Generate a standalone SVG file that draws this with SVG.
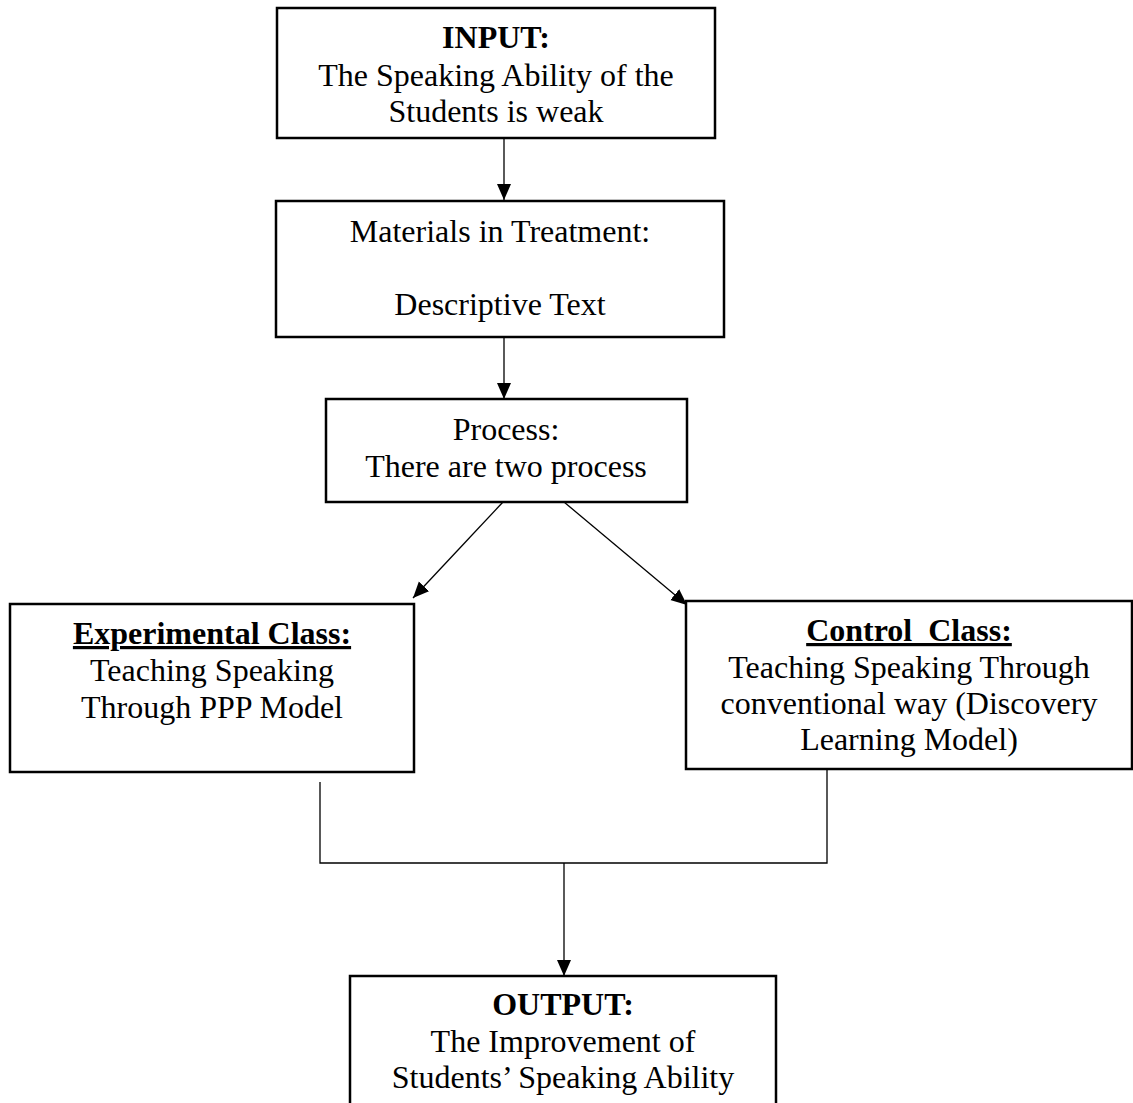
<svg xmlns="http://www.w3.org/2000/svg" width="1133" height="1103" viewBox="0 0 1133 1103">
<style>
.box{fill:#fff;stroke:#000;stroke-width:2.5}
.t{font-family:"Liberation Serif","Times New Roman",serif;font-size:32px;fill:#000;text-anchor:middle;white-space:pre}
.b{font-weight:bold}
.u{text-decoration:underline}
.c{fill:none;stroke:#000;stroke-width:1.3}
</style>
<defs>
<marker id="ah" markerUnits="userSpaceOnUse" markerWidth="16" markerHeight="16" viewBox="0 0 16 16" refX="16" refY="8" orient="auto">
<path d="M0,1 L16,8 L0,15 Z" fill="#000"/>
</marker>
</defs>
<rect width="1133" height="1103" fill="#fff"/>
<g id="connectors">
<line class="c" x1="504" y1="138" x2="504" y2="200" marker-end="url(#ah)"/>
<line class="c" x1="504" y1="337" x2="504" y2="399" marker-end="url(#ah)"/>
<line class="c" x1="503" y1="502" x2="413" y2="598" marker-end="url(#ah)"/>
<line class="c" x1="564" y1="502" x2="687" y2="605" marker-end="url(#ah)"/>
<polyline class="c" points="320,782 320,863 827,863 827,769"/>
<line class="c" x1="564" y1="863" x2="564" y2="976" marker-end="url(#ah)"/>
</g>
<g id="input">
<rect class="box" x="277" y="8" width="438" height="130"/>
<text class="t b" x="496" y="48">INPUT:</text>
<text class="t" x="496" y="86">The Speaking Ability of the</text>
<text class="t" x="496" y="122">Students is weak</text>
</g>
<g id="materials">
<rect class="box" x="276" y="201" width="448" height="136"/>
<text class="t" x="500" y="242">Materials in Treatment:</text>
<text class="t" x="500" y="315">Descriptive Text</text>
</g>
<g id="process">
<rect class="box" x="326" y="399" width="361" height="103"/>
<text class="t" x="506" y="440">Process:</text>
<text class="t" x="506" y="477">There are two process</text>
</g>
<g id="experimental">
<rect class="box" x="10" y="604" width="404" height="168"/>
<text class="t b u" x="212" y="644">Experimental Class:</text>
<text class="t" x="212" y="681">Teaching Speaking</text>
<text class="t" x="212" y="718">Through PPP Model</text>
</g>
<g id="control">
<rect class="box" x="686" y="601" width="446" height="168"/>
<text class="t b u" x="909" y="641">Control  Class:</text>
<text class="t" x="909" y="678">Teaching Speaking Through</text>
<text class="t" x="909" y="714">conventional way (Discovery</text>
<text class="t" x="909" y="750">Learning Model)</text>
</g>
<g id="output">
<rect class="box" x="350" y="976" width="426" height="140"/>
<text class="t b" x="563" y="1015">OUTPUT:</text>
<text class="t" x="563" y="1052">The Improvement of</text>
<text class="t" x="563" y="1088">Students’ Speaking Ability</text>
</g>
</svg>
